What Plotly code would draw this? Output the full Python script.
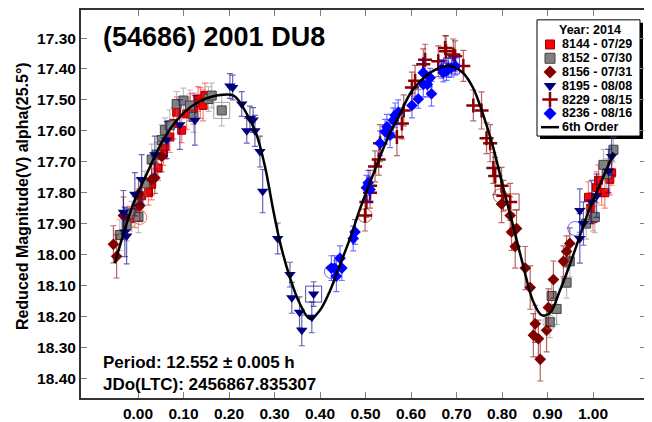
import plotly.graph_objects as go

# ---- data (phase, reduced mag, error) ----
s8144_ph = [-0.018, -0.007, 0.008, 0.023, 0.030, 0.044, 0.056, 0.059, 0.070, 0.078, 0.085, 0.096, 0.107,
            0.115, 0.122, 0.132, 0.137, 0.143, 0.147, 0.990, 0.995, 1.000, 1.008, 1.012, 1.019, 1.026, 1.037, 1.041]
s8144_mag = [17.884, 17.863, 17.810, 17.800, 17.773, 17.720, 17.672, 17.651, 17.620, 17.576, 17.540, 17.598, 17.545,
             17.520, 17.528, 17.497, 17.510, 17.518, 17.486, 17.815, 17.850, 17.884, 17.783, 17.760, 17.800, 17.800, 17.757, 17.736]
s8144_err = [0.04, 0.05, 0.05, 0.04, 0.05, 0.04, 0.04, 0.04, 0.05, 0.05, 0.05, 0.04, 0.05,
             0.04, 0.05, 0.04, 0.05, 0.05, 0.04, 0.05, 0.05, 0.04, 0.05, 0.05, 0.04, 0.05, 0.05, 0.04]

s8152_ph = [-0.040, -0.025, -0.014, 0.001, 0.001, 0.015, 0.030, 0.041, 0.052, 0.059, 0.070, 0.085, 0.100,
            0.114, 0.122, 0.155, 0.162, 0.184, 0.905, 0.909, 0.920, 0.942, 0.949, 0.985, 1.004, 1.023, 1.030, 1.045]
s8152_mag = [17.937, 17.906, 17.868, 17.879, 17.837, 17.770, 17.693, 17.677, 17.630, 17.598, 17.582, 17.513, 17.502,
             17.518, 17.555, 17.497, 17.486, 17.534, 18.219, 18.134, 18.176, 18.091, 18.022, 17.900, 17.879, 17.710, 17.740, 17.661]
s8152_err = [0.05, 0.05, 0.04, 0.05, 0.05, 0.04, 0.05, 0.04, 0.05, 0.04, 0.05, 0.04, 0.04,
             0.05, 0.05, 0.04, 0.04, 0.05, 0.05, 0.05, 0.05, 0.05, 0.05, 0.05, 0.05, 0.05, 0.05, 0.04]

s8156_ph = [-0.054, -0.047, -0.032, 0.001, 0.004, 0.030, 0.037, 0.052, 0.799, 0.818, 0.821, 0.832, 0.829,
            0.851, 0.862, 0.873, 0.869, 0.880, 0.884, 0.898, 0.902, 0.913, 0.935, 0.942, 0.949]
s8156_mag = [17.967, 18.006, 17.874, 17.805, 17.842, 17.757, 17.752, 17.683, 17.837, 17.874, 17.927, 17.916, 17.974,
             18.044, 18.107, 18.224, 18.261, 18.272, 18.339, 18.245, 18.171, 18.081, 18.022, 17.990, 17.964]
s8156_err = [0.06, 0.07, 0.06, 0.05, 0.05, 0.05, 0.05, 0.05, 0.06, 0.06, 0.06, 0.06, 0.07,
             0.07, 0.07, 0.06, 0.07, 0.06, 0.07, 0.07, 0.06, 0.06, 0.05, 0.05, 0.05]

s8195_ph = [-0.032, -0.029, -0.025, -0.007, 0.008, 0.037, 0.063, 0.092, 0.125, 0.202, 0.208, 0.228, 0.239,
            0.246, 0.253, 0.257, 0.268, 0.274, 0.307, 0.334, 0.338, 0.355, 0.360, 0.382, 0.386,
            0.971, 0.971, 0.979, 0.997, 1.008, 1.034, 1.041]
s8195_mag = [17.863, 17.927, 17.940, 17.805, 17.757, 17.677, 17.630, 17.580, 17.566, 17.455, 17.460, 17.513, 17.600,
             17.560, 17.565, 17.600, 17.667, 17.795, 17.948, 18.065, 18.140, 18.187, 18.245, 18.203, 18.128,
             17.858, 17.948, 17.900, 17.830, 17.810, 17.730, 17.683]
s8195_err = [0.07, 0.08, 0.09, 0.07, 0.08, 0.06, 0.06, 0.08, 0.08, 0.04, 0.04, 0.04, 0.04,
             0.04, 0.04, 0.05, 0.05, 0.07, 0.05, 0.04, 0.05, 0.05, 0.05, 0.05, 0.04,
             0.07, 0.08, 0.07, 0.07, 0.07, 0.07, 0.06]

s8229_ph = [0.499, 0.502, 0.510, 0.510, 0.521, 0.529, 0.532, 0.569, 0.580, 0.584, 0.602, 0.609, 0.627, 0.631,
            0.660, 0.675, 0.677, 0.693, 0.697, 0.715, 0.737, 0.755, 0.766, 0.774, 0.781, 0.785, 0.799, 0.803, 0.818]
s8229_mag = [17.874, 17.830, 17.778, 17.800, 17.715, 17.693, 17.640, 17.620, 17.576, 17.534, 17.460, 17.438, 17.385, 17.370,
             17.375, 17.332, 17.343, 17.353, 17.359, 17.390, 17.518, 17.534, 17.624, 17.640, 17.720, 17.746, 17.778, 17.810, 17.830]
s8229_err = [0.05, 0.05, 0.05, 0.05, 0.05, 0.05, 0.06, 0.06, 0.05, 0.05, 0.05, 0.05, 0.05, 0.05,
             0.05, 0.04, 0.05, 0.05, 0.05, 0.05, 0.05, 0.06, 0.05, 0.06, 0.05, 0.06, 0.06, 0.05, 0.06]

s8236_ph = [0.425, 0.432, 0.436, 0.444, 0.448, 0.473, 0.477, 0.502, 0.506, 0.510, 0.532, 0.543, 0.547, 0.554, 0.561,
            0.565, 0.572, 0.602, 0.616, 0.627, 0.627, 0.636, 0.642, 0.645, 0.667, 0.671, 0.678, 0.682, 0.689, 0.697]
s8236_mag = [18.044, 18.044, 18.070, 18.012, 18.044, 17.948, 17.927, 17.784, 17.768, 17.790, 17.640, 17.603, 17.587, 17.614, 17.566,
             17.550, 17.540, 17.518, 17.497, 17.450, 17.412, 17.450, 17.428, 17.480, 17.400, 17.412, 17.407, 17.396, 17.396, 17.390]
s8236_err = [0.04, 0.04, 0.05, 0.04, 0.04, 0.04, 0.04, 0.04, 0.04, 0.04, 0.04, 0.04, 0.04, 0.04, 0.04,
             0.04, 0.04, 0.04, 0.03, 0.04, 0.04, 0.04, 0.03, 0.04, 0.03, 0.03, 0.03, 0.03, 0.03, 0.03]

# flagged points (circled / boxed in the reference)
circled_ph = [0.004, 0.425, 0.499, 0.796, 0.905, 0.960]
circled_mag = [17.880, 18.055, 17.874, 17.810, 18.219, 17.916]
circled_set = ["8144", "8236", "8229", "8229", "8152", "8236"]
boxed_ph = [0.184, 0.386, 0.689, 0.820]
boxed_mag = [17.534, 18.128, 17.390, 17.830]
boxed_set = ["8152", "8195", "8236", "8229"]

# 6th order Fourier fit
fit_ph = [-0.051, -0.010, 0.019, 0.055, 0.092, 0.129, 0.173, 0.210, 0.239, 0.260, 0.279, 0.298, 0.312, 0.334,
          0.356, 0.378, 0.400, 0.422, 0.444, 0.466, 0.488, 0.510, 0.532, 0.554, 0.576, 0.598, 0.620, 0.642,
          0.664, 0.686, 0.714, 0.736, 0.758, 0.780, 0.802, 0.824, 0.846, 0.868, 0.887, 0.905, 0.927, 0.949,
          0.971, 0.993, 1.015, 1.037, 1.045]
fit_mag = [18.028, 17.835, 17.740, 17.630, 17.555, 17.510, 17.486, 17.486, 17.545, 17.610, 17.715, 17.862, 17.960, 18.075,
           18.160, 18.208, 18.180, 18.117, 18.033, 17.948, 17.852, 17.767, 17.683, 17.607, 17.545, 17.480, 17.440, 17.412,
           17.396, 17.390, 17.412, 17.460, 17.545, 17.650, 17.780, 17.905, 18.033, 18.150, 18.196, 18.190, 18.117, 18.033,
           17.940, 17.850, 17.775, 17.700, 17.670]

x_ticks = [0.0, 0.1, 0.2, 0.3, 0.4, 0.5, 0.6, 0.7, 0.8, 0.9, 1.0]
y_ticks = [17.3, 17.4, 17.5, 17.6, 17.7, 17.8, 17.9, 18.0, 18.1, 18.2, 18.3, 18.4]

# ---- styles ----
FONT = "Liberation Sans, Arial, sans-serif"
styles = {
    "8144": dict(label="8144 - 07/29", symbol="square", size=8, color="#FF0000", line=dict(width=1, color="#A00000"),
                 ecol="rgba(255,0,0,0.5)"),
    "8152": dict(label="8152 - 07/30", symbol="square", size=9, color="#808080", line=dict(width=1, color="#404040"),
                 ecol="rgba(128,128,128,0.5)"),
    "8156": dict(label="8156 - 07/31", symbol="diamond", size=9, color="#800000", line=dict(width=0),
                 ecol="rgba(128,0,0,0.6)"),
    "8195": dict(label="8195 - 08/08", symbol="triangle-down", size=10, color="#000080", line=dict(width=0),
                 ecol="rgba(0,0,128,0.6)"),
    "8229": dict(label="8229 - 08/15", symbol="cross-thin", size=10, color="#8B0000",
                 line=dict(width=2.5, color="#8B0000"), ecol="rgba(128,0,0,0.6)"),
    "8236": dict(label="8236 - 08/16", symbol="diamond", size=9, color="#0000FF", line=dict(width=0),
                 ecol="rgba(0,0,255,0.55)"),
}
series = [
    ("8144", s8144_ph, s8144_mag, s8144_err),
    ("8152", s8152_ph, s8152_mag, s8152_err),
    ("8156", s8156_ph, s8156_mag, s8156_err),
    ("8195", s8195_ph, s8195_mag, s8195_err),
    ("8229", s8229_ph, s8229_mag, s8229_err),
    ("8236", s8236_ph, s8236_mag, s8236_err),
]

# plot frame in page pixels (the html body adds an 8px margin round the figure)
OFF = 8
L, R, T, B = 81, 646, 8, 402
W, H = 652 - OFF, 422 - OFF


def px_x(p):
    return (p - L) / (R - L)


def px_y(p):
    return (B - p) / (B - T)


fig = go.Figure()

for key, ph, mag, err in series:
    st = styles[key]
    fig.add_trace(go.Scatter(
        x=ph, y=mag, mode="markers", name=st["label"], showlegend=False,
        error_y=dict(type="data", array=err, color=st["ecol"], thickness=1.2, width=3),
        marker=dict(symbol=st["symbol"], size=st["size"], color=st["color"], line=st["line"]),
    ))

fig.add_trace(go.Scatter(
    x=fit_ph, y=fit_mag, mode="lines", name="6th Order", showlegend=False,
    line=dict(color="black", width=2.5, shape="spline", smoothing=1.0),
))

fig.add_trace(go.Scatter(
    x=circled_ph, y=circled_mag, mode="markers", showlegend=False, hoverinfo="skip",
    marker=dict(symbol="circle-open", size=14, color=[styles[k]["color"] for k in circled_set],
                line=dict(width=1), opacity=0.6),
))
fig.add_trace(go.Scatter(
    x=boxed_ph, y=boxed_mag, mode="markers", showlegend=False, hoverinfo="skip",
    marker=dict(symbol="square-open", size=16, color=[styles[k]["color"] for k in boxed_set],
                line=dict(width=1), opacity=0.7),
))

# ---- hand-drawn legend on a pixel overlay axis ----
leg_x0, leg_x1, leg_y0, leg_y1 = 537, 640, 18, 136
shapes = [
    dict(type="rect", xref="x2", yref="y2", x0=leg_x0 + 3, x1=leg_x1 + 3, y0=leg_y0 + 3, y1=leg_y1 + 3,
         fillcolor="black", line=dict(width=0), layer="below"),
    dict(type="rect", xref="x2", yref="y2", x0=leg_x0, x1=leg_x1, y0=leg_y0, y1=leg_y1,
         fillcolor="white", line=dict(width=1, color="black"), layer="below"),
    dict(type="line", xref="x2", yref="y2", x0=541, x1=559, y0=127, y1=127,
         line=dict(width=2.5, color="black")),
]
annotations = [
    dict(xref="x2", yref="y2", x=(leg_x0 + leg_x1) / 2 + 1, y=28, text="Year: 2014", showarrow=False,
         font=dict(family=FONT, size=12.5, color="black", weight="bold"), xanchor="center", yanchor="middle"),
    dict(xref="x2", yref="y2", x=560, y=127, text="6th Order", showarrow=False,
         font=dict(family=FONT, size=12.5, color="black", weight="bold"), xanchor="left", yanchor="middle"),
]
row_y = [43, 57, 71, 85, 99, 113]
for (key, _, _, _), ry in zip(series, row_y):
    st = styles[key]
    fig.add_trace(go.Scatter(
        x=[550], y=[ry], xaxis="x2", yaxis="y2", mode="markers", showlegend=False, hoverinfo="skip",
        marker=dict(symbol=st["symbol"], size=st["size"] + 1, color=st["color"], line=st["line"]),
    ))
    annotations.append(dict(xref="x2", yref="y2", x=560, y=ry, text=st["label"], showarrow=False,
                            font=dict(family=FONT, size=12.5, color="black", weight="bold"),
                            xanchor="left", yanchor="middle"))

# ---- text blocks ----
annotations += [
    dict(xref="paper", yref="paper", x=px_x(101), y=px_y(35), text="(54686) 2001 DU8", showarrow=False,
         font=dict(family=FONT, size=27, color="black", weight="bold"), xanchor="left", yanchor="middle"),
    dict(xref="paper", yref="paper", x=px_x(101), y=px_y(366), text="Period: 12.552 ± 0.005 h", showarrow=False,
         font=dict(family=FONT, size=17, color="black", weight="bold"), xanchor="left", yanchor="middle"),
    dict(xref="paper", yref="paper", x=px_x(101), y=px_y(388), text="JDo(LTC): 2456867.835307", showarrow=False,
         font=dict(family=FONT, size=17, color="black", weight="bold"), xanchor="left", yanchor="middle"),
    dict(xref="paper", yref="paper", x=px_x(22), y=px_y(197), text="Reduced Magnitude(V) alpha(25.5°)",
         showarrow=False, textangle=-90,
         font=dict(family=FONT, size=16, color="black", weight="bold"), xanchor="center", yanchor="middle"),
]

x_lo = 0.0 - (138 - L) / 455.0
x_hi = 0.0 + (R - 138) / 455.0
y_top = 17.30 - (36.5 - T) / 314.0
y_bot = 17.30 + (B - 36.5) / 314.0

axis_common = dict(
    showline=True, linecolor="#333333", linewidth=2, mirror="ticks",
    ticks="inside", ticklen=6, tickwidth=1, tickcolor="#808080",
    showgrid=False, zeroline=False, tickformat=".2f",
    tickfont=dict(family=FONT, size=15.5, color="black", weight="bold"),
)

fig.update_layout(
    width=W, height=H,
    margin=dict(l=L - OFF, r=652 - R, t=T - OFF, b=422 - B),
    paper_bgcolor="white", plot_bgcolor="white",
    showlegend=False,
    xaxis=dict(range=[x_lo, x_hi], tickvals=x_ticks, **axis_common),
    yaxis=dict(range=[y_bot, y_top], tickvals=y_ticks, **axis_common),
    xaxis2=dict(overlaying="x", range=[L, R], visible=False, fixedrange=True),
    yaxis2=dict(overlaying="y", range=[B, T], visible=False, fixedrange=True),
    shapes=shapes,
    annotations=annotations,
)

fig.write_html("out.html")
